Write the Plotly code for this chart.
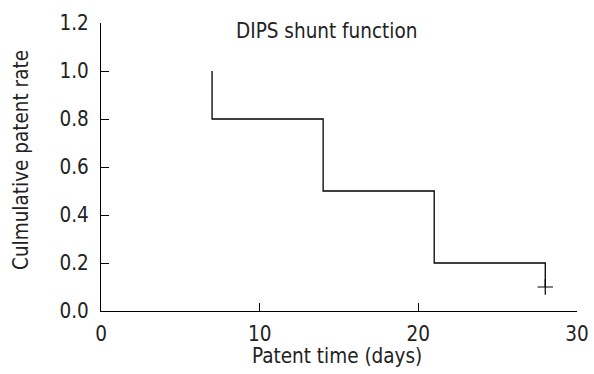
import plotly.graph_objects as go

step_times = [7, 7, 14, 21, 28]
survival = [1.0, 0.8, 0.5, 0.2, 0.1]
censor_times = [28]
censor_vals = [0.1]
x_ticks = [0, 10, 20, 30]
y_ticks = [0.0, 0.2, 0.4, 0.6, 0.8, 1.0, 1.2]

W, H = 594, 374
L, R, T, B = 101, 17, 23, 63
pw, ph = W - L - R, H - T - B

fig = go.Figure()
fig.add_trace(go.Scatter(x=step_times, y=survival, mode="lines", line_shape="hv",
                         line=dict(color="black", width=1.3), showlegend=False, hoverinfo="skip"))
fig.add_trace(go.Scatter(x=censor_times, y=censor_vals, mode="markers",
                         marker=dict(symbol="cross-thin", size=11, line=dict(color="black", width=1.2)),
                         showlegend=False, hoverinfo="skip"))

FAM = "DejaVu Sans Condensed, DejaVu Sans"
tick_font = dict(family=FAM, size=20.5, color="#222")
lab_font = dict(family=FAM, size=20.5, color="#222")
fig.update_layout(
    width=W, height=H,
    margin=dict(l=L, r=R, t=T, b=B, autoexpand=False),
    plot_bgcolor="white", paper_bgcolor="white",
    font=dict(family=FAM, size=20.5, color="#222"),
    xaxis=dict(range=[0, 30], tickvals=x_ticks, ticktext=[str(v) for v in x_ticks],
               ticks="inside", ticklen=8, tickcolor="black", showline=True, linecolor="black",
               linewidth=1.3, showgrid=False, zeroline=False, automargin=False,
               tickfont=tick_font, ticklabelstandoff=4),
    yaxis=dict(range=[0, 1.2], tickvals=y_ticks, ticktext=[f"{v:.1f}" for v in y_ticks],
               ticks="inside", ticklen=8, tickcolor="black", showline=True, linecolor="black",
               linewidth=1.3, showgrid=False, zeroline=False, automargin=False,
               tickfont=tick_font, ticklabelstandoff=7),
    annotations=[
        dict(text="DIPS shunt function", x=(326 - L) / pw, y=(311 - 31) / ph, xref="paper", yref="paper",
             showarrow=False, xanchor="center", yanchor="middle", font=lab_font),
        dict(text="Patent time (days)", x=(337 - L) / pw, y=-(356 - 311) / ph, xref="paper", yref="paper",
             showarrow=False, xanchor="center", yanchor="middle", font=lab_font),
        dict(text="Culmulative patent rate", x=-(L - 21) / pw, y=(311 - 160) / ph, xref="paper", yref="paper",
             showarrow=False, textangle=-90, xanchor="center", yanchor="middle", font=lab_font),
    ],
)
fig.write_html("out.html", config={"displayModeBar": False},
               post_script="document.body.style.margin='0';")
